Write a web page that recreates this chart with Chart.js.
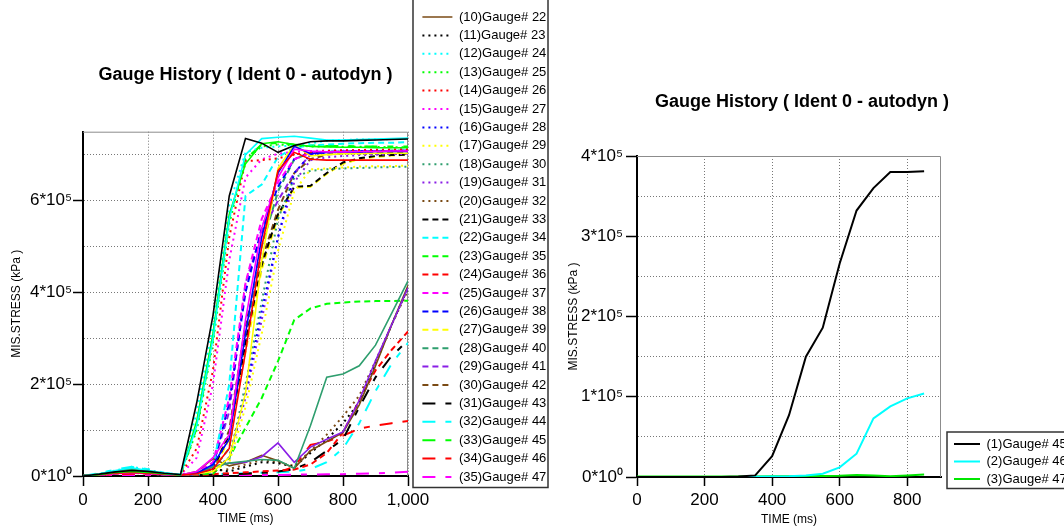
<!DOCTYPE html>
<html>
<head>
<meta charset="utf-8">
<script src="https://cdn.jsdelivr.net/npm/chart.js@4.4.1/dist/chart.umd.min.js"></script>
<style>
  html, body { margin: 0; padding: 0; background: #fff; }
  body { width: 1064px; height: 532px; overflow: hidden; position: relative; }
  canvas { position: absolute; }
  #left { left: -50px; top: 0; }
  #right { left: 500px; top: 0; }
</style>
</head>
<body>
<canvas id="left" width="650" height="532"></canvas>
<canvas id="right" width="600" height="532"></canvas>
<script>
// ---- data: left panel (time in ms, MIS.STRESS in kPa) ----
const timeLeft = [0, 50, 100, 150, 200, 250, 300, 350, 400, 450, 500, 550, 600, 650, 700, 750, 800, 850, 900, 950, 1000];
const xTicksLeft = [0, 200, 400, 600, 800, 1000];
const yTicksLeft = [0, 1e5, 2e5, 3e5, 4e5, 5e5, 6e5, 7e5];

const g13 = [0, 4e3, 9e3, 12e3, 10e3, 6e3, 3e3, 160e3, 350e3, 610e3, 735e3, 725e3, 705e3, 720e3, 728e3, 730e3, 730e3, 731e3, 732e3, 733e3, 734e3];
const g14 = [0, 5e3, 12e3, 18e3, 12e3, 6e3, 3e3, 110e3, 300e3, 560e3, 700e3, 735e3, 738e3, 740e3, 736e3, 732e3, 732e3, 733e3, 734e3, 735e3, 736e3];
const g15 = [0, 3e3, 8e3, 10e3, 8e3, 5e3, 2e3, 120e3, 310e3, 570e3, 680e3, 724e3, 728e3, 722e3, 718e3, 717e3, 716e3, 716e3, 715e3, 715e3, 715e3];
const g16 = [0, 3e3, 6e3, 8e3, 6e3, 4e3, 2e3, 5e3, 15e3, 60e3, 270e3, 500e3, 665e3, 705e3, 690e3, 688e3, 688e3, 688e3, 688e3, 688e3, 688e3];
const g17 = [0, 2e3, 5e3, 7e3, 5e3, 3e3, 2e3, 10e3, 40e3, 90e3, 340e3, 540e3, 650e3, 712e3, 708e3, 706e3, 706e3, 707e3, 707e3, 708e3, 708e3];
const g18 = [0, 3e3, 6e3, 9e3, 7e3, 4e3, 2e3, 6e3, 25e3, 80e3, 310e3, 520e3, 660e3, 718e3, 702e3, 705e3, 706e3, 706e3, 707e3, 707e3, 707e3];
const g19 = [0, 4e3, 8e3, 10e3, 7e3, 4e3, 2e3, 5e3, 10e3, 40e3, 180e3, 470e3, 670e3, 722e3, 697e3, 700e3, 702e3, 702e3, 703e3, 703e3, 703e3];
const g20 = [0, 4e3, 10e3, 15e3, 12e3, 6e3, 2e3, 5e3, 20e3, 28e3, 32e3, 36e3, 34e3, 17e3, 110e3, 215e3, 222e3, 240e3, 285e3, 355e3, 425e3];
const g21 = [0, 3e3, 8e3, 12e3, 9e3, 5e3, 2e3, 4e3, 20e3, 28e3, 30e3, 42e3, 72e3, 30e3, 63e3, 80e3, 96e3, 165e3, 251e3, 330e3, 410e3];
const g22 = [0, 4e3, 10e3, 14e3, 10e3, 5e3, 2e3, 10e3, 38e3, 22e3, 30e3, 45e3, 33e3, 17e3, 55e3, 75e3, 95e3, 155e3, 240e3, 330e3, 415e3];
const g23 = [0, 3e3, 7e3, 10e3, 8e3, 4e3, 2e3, 5e3, 15e3, 10e3, 20e3, 30e3, 28e3, 20e3, 50e3, 80e3, 115e3, 160e3, 245e3, 330e3, 410e3];
const g24 = [0, 5e3, 12e3, 20e3, 14e3, 6e3, 3e3, 140e3, 330e3, 590e3, 705e3, 715e3, 718e3, 720e3, 725e3, 730e3, 732e3, 733e3, 733e3, 734e3, 734e3];
const g25 = [0, 3e3, 8e3, 11e3, 9e3, 5e3, 2e3, 100e3, 290e3, 550e3, 690e3, 718e3, 722e3, 720e3, 718e3, 718e3, 717e3, 717e3, 717e3, 716e3, 716e3];
const g26 = [0, 3e3, 7e3, 9e3, 7e3, 4e3, 2e3, 60e3, 230e3, 520e3, 686e3, 688e3, 692e3, 700e3, 705e3, 708e3, 709e3, 710e3, 710e3, 711e3, 711e3];
const g27 = [0, 3e3, 8e3, 10e3, 8e3, 4e3, 2e3, 40e3, 200e3, 470e3, 650e3, 690e3, 702e3, 706e3, 708e3, 709e3, 710e3, 710e3, 711e3, 711e3, 712e3];
const g28 = [0, 2e3, 6e3, 8e3, 6e3, 3e3, 2e3, 4e3, 12e3, 40e3, 180e3, 360e3, 520e3, 660e3, 700e3, 704e3, 706e3, 707e3, 707e3, 708e3, 708e3];
const g29 = [0, 3e3, 7e3, 9e3, 7e3, 4e3, 2e3, 4e3, 10e3, 30e3, 150e3, 310e3, 490e3, 620e3, 668e3, 670e3, 672e3, 674e3, 675e3, 675e3, 676e3];
const g30 = [0, 3e3, 6e3, 8e3, 6e3, 3e3, 2e3, 4e3, 12e3, 35e3, 200e3, 380e3, 560e3, 650e3, 665e3, 668e3, 670e3, 671e3, 672e3, 673e3, 674e3];
const g31 = [0, 2e3, 6e3, 9e3, 7e3, 4e3, 2e3, 4e3, 12e3, 40e3, 170e3, 340e3, 520e3, 640e3, 688e3, 694e3, 697e3, 699e3, 700e3, 701e3, 702e3];
const g32 = [0, 3e3, 7e3, 10e3, 8e3, 4e3, 2e3, 4e3, 10e3, 15e3, 25e3, 35e3, 30e3, 22e3, 55e3, 90e3, 130e3, 175e3, 250e3, 330e3, 405e3];
const g33 = [0, 3e3, 7e3, 10e3, 7e3, 4e3, 2e3, 5e3, 15e3, 90e3, 290e3, 460e3, 570e3, 630e3, 632e3, 660e3, 683e3, 692e3, 697e3, 699e3, 700e3];
const g34 = [0, 4e3, 10e3, 14e3, 10e3, 5e3, 2e3, 5e3, 20e3, 200e3, 610e3, 635e3, 695e3, 715e3, 720e3, 722e3, 724e3, 725e3, 726e3, 726e3, 727e3];
const g35 = [0, 3e3, 6e3, 8e3, 6e3, 3e3, 2e3, 4e3, 5e3, 40e3, 105e3, 170e3, 250e3, 340e3, 365e3, 375e3, 378e3, 380e3, 381e3, 381e3, 382e3];
const g36 = [0, 2e3, 5e3, 7e3, 5e3, 3e3, 1e3, 2e3, 4e3, 6e3, 8e3, 10e3, 12e3, 14e3, 25e3, 50e3, 95e3, 165e3, 230e3, 275e3, 315e3];
const g37 = [0, 3e3, 7e3, 9e3, 7e3, 4e3, 2e3, 8e3, 30e3, 170e3, 420e3, 560e3, 640e3, 690e3, 704e3, 706e3, 707e3, 707e3, 708e3, 708e3, 708e3];
const g38 = [0, 3e3, 6e3, 8e3, 6e3, 3e3, 2e3, 6e3, 20e3, 160e3, 400e3, 540e3, 630e3, 690e3, 705e3, 706e3, 707e3, 708e3, 708e3, 708e3, 709e3];
const g39 = [0, 3e3, 6e3, 9e3, 7e3, 4e3, 2e3, 4e3, 12e3, 80e3, 270e3, 450e3, 565e3, 628e3, 630e3, 658e3, 680e3, 690e3, 695e3, 698e3, 700e3];
const g40 = [0, 3e3, 6e3, 8e3, 6e3, 3e3, 2e3, 4e3, 15e3, 60e3, 300e3, 500e3, 620e3, 690e3, 704e3, 706e3, 707e3, 708e3, 708e3, 709e3, 709e3];
const g41 = [0, 3e3, 7e3, 10e3, 7e3, 4e3, 2e3, 6e3, 25e3, 140e3, 420e3, 530e3, 600e3, 660e3, 700e3, 705e3, 706e3, 707e3, 707e3, 708e3, 708e3];
const g42 = [0, 3e3, 7e3, 10e3, 8e3, 4e3, 2e3, 5e3, 10e3, 100e3, 330e3, 470e3, 580e3, 660e3, 690e3, 700e3, 703e3, 704e3, 705e3, 705e3, 706e3];
const g43 = [0, 3e3, 6e3, 8e3, 6e3, 3e3, 1e3, 2e3, 3e3, 4e3, 5e3, 7e3, 10e3, 15e3, 30e3, 55e3, 80e3, 150e3, 215e3, 262e3, 295e3];
const g44 = [0, 6e3, 14e3, 20e3, 15e3, 7e3, 3e3, 3e3, 4e3, 5e3, 6e3, 7e3, 8e3, 10e3, 15e3, 30e3, 60e3, 115e3, 185e3, 245e3, 290e3];
const g45 = [0, 3e3, 8e3, 11e3, 9e3, 5e3, 2e3, 105e3, 300e3, 560e3, 690e3, 722e3, 726e3, 722e3, 720e3, 719e3, 719e3, 718e3, 718e3, 718e3, 718e3];
const g46 = [0, 2e3, 4e3, 5e3, 4e3, 2e3, 1e3, 2e3, 3e3, 4e3, 5e3, 6e3, 8e3, 20e3, 68e3, 75e3, 88e3, 103e3, 110e3, 115e3, 120e3];
const g47 = [0, 1e3, 2e3, 2e3, 2e3, 1e3, 1e3, 1e3, 1e3, 1e3, 2e3, 2e3, 2e3, 3e3, 3e3, 4e3, 4e3, 5e3, 6e3, 7e3, 9e3];

const leftSeries = [g13, g14, g15, g16, g17, g18, g19, g20, g21, g22, g23, g24, g25, g26, g27, g28, g29, g30,
  g31, g32, g33, g34, g35, g36, g37, g38, g39, g40, g41, g42, g43, g44, g45, g46, g47];
const leftNames = [
  '(1)Gauge# 13', '(2)Gauge# 14', '(3)Gauge# 15', '(4)Gauge# 16', '(5)Gauge# 17', '(6)Gauge# 18', '(7)Gauge# 19',
  '(8)Gauge# 20', '(9)Gauge# 21', '(10)Gauge# 22', '(11)Gauge# 23', '(12)Gauge# 24', '(13)Gauge# 25', '(14)Gauge# 26',
  '(15)Gauge# 27', '(16)Gauge# 28', '(17)Gauge# 29', '(18)Gauge# 30', '(19)Gauge# 31', '(20)Gauge# 32', '(21)Gauge# 33',
  '(22)Gauge# 34', '(23)Gauge# 35', '(24)Gauge# 36', '(25)Gauge# 37', '(26)Gauge# 38', '(27)Gauge# 39', '(28)Gauge# 40',
  '(29)Gauge# 41', '(30)Gauge# 42', '(31)Gauge# 43', '(32)Gauge# 44', '(33)Gauge# 45', '(34)Gauge# 46', '(35)Gauge# 47'
];
const firstShownInLegend = 9;   // entries (1)-(9) are scrolled out of the legend box

// ---- data: right panel ----
const timeRight = [0, 50, 100, 150, 200, 250, 300, 350, 400, 450, 500, 550, 600, 650, 700, 750, 800, 850];
const xTicksRight = [0, 200, 400, 600, 800];
const yTicksRight = [0, 5e4, 1e5, 1.5e5, 2e5, 2.5e5, 3e5, 3.5e5, 4e5];
const r45 = [0, 0, 0, 0, 0, 0, 500, 2e3, 26e3, 77e3, 150e3, 186e3, 266e3, 332e3, 360e3, 380e3, 380e3, 381e3];
const r46 = [0, 0, 0, 0, 0, 0, 0, 300, 500, 1e3, 2e3, 4e3, 12e3, 29e3, 73e3, 88e3, 98e3, 104e3];
const r47 = [500, 600, 600, 500, 500, 500, 600, 700, 800, 900, 1e3, 1.2e3, 1.5e3, 2.5e3, 2e3, 1e3, 2e3, 3e3];
const rightSeries = [r45, r46, r47];
const rightNames = ['(1)Gauge# 45', '(2)Gauge# 46', '(3)Gauge# 47'];

// ---- styles ----
const palette = ['#000000', '#00ffff', '#00ff00', '#ff0000', '#ff00ff', '#0000ff', '#ffff00', '#2e9e6e', '#8a1ee6', '#7a4a14'];
const rightColors = ['#000000', '#00ffff', '#00e600'];
const dashes = { solid: [], dot: [2, 4], dash: [6, 4], longShort: [13, 10, 6, 10] };
function dashFor(i) {
  if (i < 10) return dashes.solid;
  if (i < 20) return dashes.dot;
  if (i < 30) return dashes.dash;
  return dashes.longShort;
}

const FAMILY = "'Liberation Sans', Arial, sans-serif";
Chart.defaults.font.family = FAMILY;
Chart.defaults.color = '#000';

// width chart.js will give a one-column legend (needed to place the plot area exactly)
function legendWidth(names, boxW, pad) {
  const ctx = document.createElement('canvas').getContext('2d');
  ctx.font = '13px ' + FAMILY;
  let w = 0;
  names.forEach(n => { w = Math.max(w, ctx.measureText(n).width); });
  return pad + boxW + 6.5 + w + 10;
}

function sciTick(v) {
  const n = Math.round(v / 1e5);
  return n === 0 ? '0*10\u2070' : n + '*10\u2075';
}

function legendItems(chart) {
  const items = Chart.defaults.plugins.legend.labels.generateLabels(chart);
  items.forEach(it => {
    const ds = chart.data.datasets[it.datasetIndex];
    it.strokeStyle = ds.borderColor;
    it.lineDash = ds.borderDash;
    it.lineWidth = ds.borderWidth;
  });
  return items;
}

const useTicks = list => s => { s.ticks = list.map(v => ({ value: v })); };

// plot frame (top/right) and the box around the legend
const framePlugin = {
  id: 'plotFrame',
  beforeDatasetsDraw(chart) {
    const { ctx, chartArea: a } = chart;
    ctx.save();
    ctx.strokeStyle = '#8c8c8c';
    ctx.lineWidth = 1;
    ctx.beginPath();
    ctx.moveTo(a.left, a.top + 0.5);
    ctx.lineTo(a.right - 0.5, a.top + 0.5);
    ctx.lineTo(a.right - 0.5, a.bottom);
    ctx.stroke();
    ctx.restore();
  },
  afterDraw(chart, args, opts) {
    const boxes = chart.legend && chart.legend.legendHitBoxes;
    if (!boxes || !boxes.length) return;
    const first = boxes[0], last = boxes[boxes.length - 1];
    const ctx = chart.ctx;
    ctx.save();
    ctx.strokeStyle = '#333';
    ctx.lineWidth = 1.5;
    ctx.strokeRect(first.left + opts.l, first.top + opts.t, opts.r - opts.l, last.top + opts.b - first.top - opts.t);
    ctx.restore();
  }
};

const gridBase = { color: '#777', lineWidth: 1, tickWidth: 1.5 };
const gapAxis = w => ({
  type: 'linear', position: 'right', display: false,
  afterFit: s => { s.width = w; }
});

// ---- left chart (canvas shifted 50px left) ----
const lwLeft = legendWidth(leftNames.slice(firstShownInLegend), 30, 5.4);
new Chart(document.getElementById('left'), {
  type: 'line',
  data: {
    datasets: leftSeries.map((vals, i) => ({
      label: leftNames[i],
      data: vals.map((v, j) => ({ x: timeLeft[j], y: v })),
      borderColor: palette[i % 10],
      borderDash: dashFor(i),
      borderWidth: i < 10 ? 1.6 : 2,
      pointRadius: 0,
      tension: 0,
      fill: false
    }))
  },
  options: {
    responsive: false,
    animation: false,
    layout: { padding: { left: 0, right: 650 - 467 - lwLeft, top: 0, bottom: 0 } },
    scales: {
      x: {
        type: 'linear', min: 0, max: 1000, bounds: 'data',
        afterBuildTicks: useTicks(xTicksLeft),
        ticks: { autoSkip: false, maxRotation: 0, padding: 4, font: { size: 17 },
          callback: v => v.toLocaleString('en-US') },
        grid: { ...gridBase, tickLength: 10, tickColor: '#000' },
        border: { color: '#000', width: 2, dash: [1, 2] },
        title: { display: true, text: 'TIME (ms)', font: { size: 12 }, padding: { top: 0, bottom: 5.8 } },
        afterFit: s => { s.height = 56; }
      },
      y: {
        type: 'linear', min: 0, max: 750000, bounds: 'data',
        afterBuildTicks: useTicks(yTicksLeft),
        ticks: { autoSkip: false, padding: 1, font: { size: 17 },
          callback: v => (Math.round(v / 1e5) % 2 === 0 ? sciTick(v) : '') },
        grid: { ...gridBase, tickLength: 10,
          tickColor: c => (Math.round(c.tick.value / 1e5) % 2 === 0 ? '#000' : 'rgba(0,0,0,0)') },
        border: { color: '#000', width: 2, dash: [1, 2] },
        title: { display: true, text: 'MIS.STRESS (kPa )', font: { size: 12 }, padding: { top: 59.8, bottom: 0 } },
        afterFit: s => { s.width = 133; }
      },
      yGap: gapAxis(9)
    },
    plugins: {
      title: {
        display: true, fullSize: false, text: 'Gauge History ( Ident 0 - autodyn )',
        font: { size: 18, weight: 'bold' }, color: '#000', padding: { top: 64.2, bottom: 45.9 }
      },
      legend: {
        position: 'right', align: 'start', fullSize: true,
        title: { display: true, text: '', font: { size: 1 }, padding: { top: 3.9, bottom: 0 } },
        labels: { usePointStyle: true, pointStyle: 'line', pointStyleWidth: 30, padding: 5.4,
          font: { size: 13 }, color: '#000', generateLabels: legendItems,
          filter: item => item.datasetIndex >= firstShownInLegend }
      },
      tooltip: { enabled: false },
      plotFrame: { l: -9.4, r: 125.6, t: -40, b: 17 }
    }
  },
  plugins: [framePlugin]
});

// ---- right chart (canvas starts at page x 500) ----
const lwRight = legendWidth(rightNames, 26, 4.5);
const yBoxLeft = 654.5 - lwRight;          // page x of the y-axis box
new Chart(document.getElementById('right'), {
  type: 'line',
  data: {
    datasets: rightSeries.map((vals, i) => ({
      label: rightNames[i],
      data: vals.map((v, j) => ({ x: timeRight[j], y: v })),
      borderColor: rightColors[i],
      borderDash: [],
      borderWidth: 2,
      pointRadius: 0,
      tension: 0,
      fill: false
    }))
  },
  options: {
    responsive: false,
    animation: false,
    layout: { padding: { left: yBoxLeft - 500, right: 150.5 - lwRight, top: 0, bottom: 0 } },
    scales: {
      x: {
        type: 'linear', min: 0, max: 900, bounds: 'data',
        afterBuildTicks: useTicks(xTicksRight),
        ticks: { autoSkip: false, maxRotation: 0, padding: 4, font: { size: 17 },
          callback: v => v.toLocaleString('en-US') },
        grid: { ...gridBase, tickLength: 9, tickColor: '#000' },
        border: { color: '#000', width: 2, dash: [1, 2] },
        title: { display: true, text: 'TIME (ms)', font: { size: 12 }, padding: { top: 0, bottom: 4.8 } },
        afterFit: s => { s.height = 55; }
      },
      y: {
        type: 'linear', min: 0, max: 400000, bounds: 'data',
        afterBuildTicks: useTicks(yTicksRight),
        ticks: { autoSkip: false, padding: 3, font: { size: 17 },
          callback: v => (Math.round(v / 5e4) % 2 === 0 ? sciTick(v) : '') },
        grid: { ...gridBase, tickLength: 11,
          tickColor: c => (Math.round(c.tick.value / 5e4) % 2 === 0 ? '#000' : 'rgba(0,0,0,0)') },
        border: { color: '#000', width: 2, dash: [1, 2] },
        title: { display: true, text: 'MIS.STRESS (kPa )', font: { size: 12 }, padding: { top: 566.3 - yBoxLeft, bottom: 0 } },
        afterFit: s => { s.width = 637 - yBoxLeft; }
      },
      yGap: gapAxis(8.5)
    },
    plugins: {
      title: {
        display: true, fullSize: true, text: 'Gauge History ( Ident 0 - autodyn )',
        font: { size: 18, weight: 'bold' }, color: '#000', padding: { top: 91.2, bottom: 43.2 }
      },
      legend: {
        position: 'right', align: 'start', fullSize: true,
        title: { display: true, text: '', font: { size: 10 }, padding: { top: 421, bottom: 0 } },
        labels: { usePointStyle: true, pointStyle: 'line', pointStyleWidth: 26, padding: 4.5,
          font: { size: 13 }, color: '#000', generateLabels: legendItems }
      },
      tooltip: { enabled: false },
      plotFrame: { l: -7, r: 200, t: -5.5, b: 16 }
    }
  },
  plugins: [framePlugin]
});
</script>
</body>
</html>
